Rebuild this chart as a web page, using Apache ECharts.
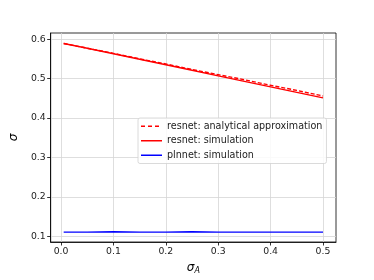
<!DOCTYPE html>
<html><head><meta charset="utf-8">
<script src="https://cdn.jsdelivr.net/npm/echarts@6/dist/echarts.min.js"></script>
<style>html,body{margin:0;padding:0;background:#fff}#c{width:374px;height:280px}</style>
</head><body><div id="c"></div>
<script>
const sigmaA = [0.005, 0.05, 0.1, 0.15, 0.2, 0.25, 0.3, 0.35, 0.4, 0.45, 0.5];
const resnetAnalytical = [0.589, 0.577, 0.564, 0.550, 0.537, 0.523, 0.510, 0.497, 0.483, 0.470, 0.456];
const resnetSimulation = [0.589, 0.577, 0.563, 0.549, 0.535, 0.521, 0.507, 0.493, 0.479, 0.465, 0.451];
const plnnetSimulation = [0.111, 0.111, 0.112, 0.111, 0.111, 0.112, 0.111, 0.111, 0.111, 0.111, 0.111];
const xTicks = [0.0, 0.1, 0.2, 0.3, 0.4, 0.5];
const yTicks = [0.1, 0.2, 0.3, 0.4, 0.5, 0.6];
const seriesNames = ['resnet: analytical approximation', 'resnet: simulation', 'plnnet: simulation'];

const pair = (xs, ys) => xs.map((x, i) => [x, ys[i]]);
const font = 'DejaVu Sans';
const solidIcon = 'path://M0,0L0.01,0L0,0Z M0,3.25L21,3.25L21,4.75L0,4.75Z M21,8L20.99,8L21,8Z';
const dashIcon = 'path://M0,0L0.01,0L0,0Z M0,3.25L4,3.25L4,4.75L0,4.75Z M7,3.25L11,3.25L11,4.75L7,4.75Z M14,3.25L18,3.25L18,4.75L14,4.75Z M21,8L20.99,8L21,8Z';
const axisCommon = {
  axisLine: {show: true, onZero: false, lineStyle: {color: '#000', width: 0.8}},
  axisTick: {show: true, length: 3.5, lineStyle: {color: '#000', width: 0.8}},
  splitLine: {show: true, lineStyle: {color: '#d6d6d6', width: 0.8}},
  axisLabel: {color: '#222', fontSize: 9.3, fontFamily: font, margin: 5, showMinLabel: true, showMaxLabel: true}
};
const chart = echarts.init(document.getElementById('c'), null, {renderer: 'canvas'});
chart.setOption({
  animation: false,
  backgroundColor: '#fff',
  grid: {left: 46, right: 38, top: 33, bottom: 31, show: true, borderColor: '#000', borderWidth: 0.8, backgroundColor: 'transparent'},
  xAxis: Object.assign({}, axisCommon, {
    type: 'value', min: -0.0198, max: 0.5248,
    axisTick: Object.assign({}, axisCommon.axisTick, {customValues: xTicks}),
    axisLabel: Object.assign({}, axisCommon.axisLabel, {customValues: xTicks, formatter: v => v.toFixed(1)}),
    name: '{s|σ}{sub|A}', nameLocation: 'middle', nameGap: 19,
    nameTextStyle: {rich: {s: {fontSize: 12, fontFamily: font, fontStyle: 'italic', color: '#000'}, sub: {fontSize: 8, fontFamily: font, fontStyle: 'italic', color: '#000', verticalAlign: 'bottom', padding: [6, 0, 0, 0]}}}
  }),
  yAxis: Object.assign({}, axisCommon, {
    type: 'value', min: 0.086, max: 0.6155,
    axisTick: Object.assign({}, axisCommon.axisTick, {customValues: yTicks}),
    axisLabel: Object.assign({}, axisCommon.axisLabel, {customValues: yTicks, formatter: v => v.toFixed(1)}),
    name: 'σ', nameLocation: 'middle', nameGap: 26, nameRotate: 90,
    nameTextStyle: {fontSize: 12, fontFamily: font, fontStyle: 'italic', color: '#000'}
  }),
  legend: {
    orient: 'vertical', left: 138, top: 118,
    data: [
      {name: seriesNames[0], icon: dashIcon},
      {name: seriesNames[1], icon: solidIcon},
      {name: seriesNames[2], icon: solidIcon}
    ],
    itemWidth: 21, itemHeight: 8, itemGap: 4,
    padding: [3, 4, 3, 3],
    borderColor: '#d0d0d0', borderWidth: 0.8, borderRadius: 2,
    backgroundColor: 'rgba(255,255,255,0.85)',
    textStyle: {fontSize: 9.6, fontFamily: font, color: '#222', lineHeight: 10.5, padding: [0, 0, 0, 0]}
  },
  series: [
    {name: seriesNames[0], type: 'line', data: pair(sigmaA, resnetAnalytical), symbol: 'none', color: '#ff0000', lineStyle: {color: '#ff0000', width: 1.4, type: [4, 2]}, z: 3},
    {name: seriesNames[1], type: 'line', data: pair(sigmaA, resnetSimulation), symbol: 'none', color: '#ff0000', lineStyle: {color: '#ff0000', width: 1.4}, z: 2},
    {name: seriesNames[2], type: 'line', data: pair(sigmaA, plnnetSimulation), symbol: 'none', color: '#0000ff', lineStyle: {color: '#0000ff', width: 1.4}, z: 2}
  ]
});
</script></body></html>
